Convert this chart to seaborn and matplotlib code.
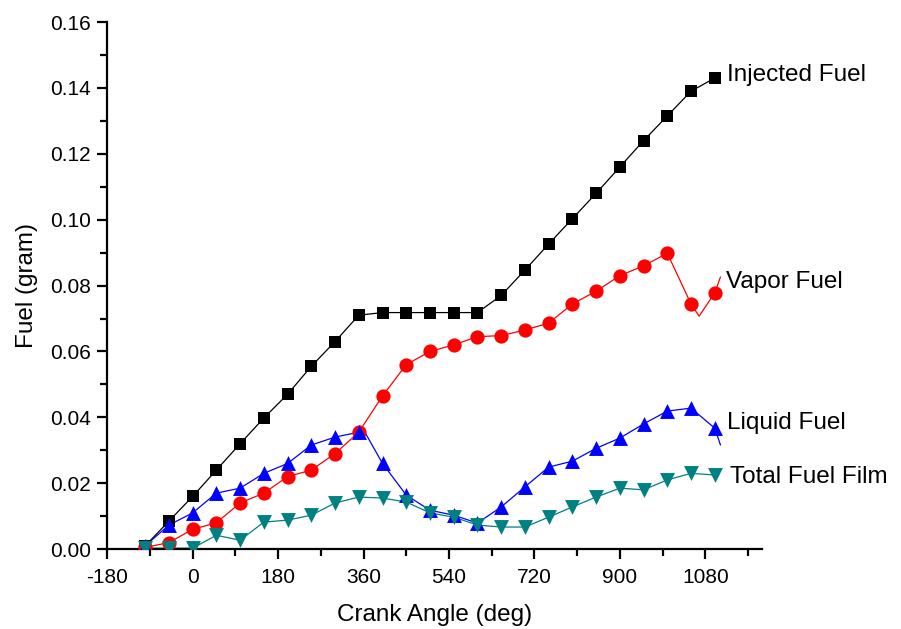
import matplotlib
matplotlib.use('Agg')
import matplotlib.pyplot as plt
from matplotlib.ticker import MultipleLocator, FormatStrFormatter
import seaborn as sns
import pandas as pd

# crank angles where markers sit (every 50 deg)
angles = [-100, -50, 0, 50, 100, 150, 200, 250, 300, 350, 400, 450, 500,
          550, 600, 650, 700, 750, 800, 850, 900, 950, 1000, 1050, 1100]

injected = [0.001, 0.0085, 0.016, 0.024, 0.032, 0.0398, 0.047, 0.0555, 0.063,
            0.071, 0.0718, 0.0718, 0.0718, 0.0718, 0.0718, 0.077, 0.0847,
            0.0926, 0.1003, 0.108, 0.116, 0.124, 0.1315, 0.139, 0.143]
vapor = [0.0005, 0.002, 0.006, 0.008, 0.014, 0.017, 0.022, 0.024, 0.029,
         0.0355, 0.0465, 0.056, 0.060, 0.062, 0.0645, 0.0648, 0.0665, 0.0686,
         0.0744, 0.0783, 0.083, 0.086, 0.0898, 0.0744, 0.0778]
liquid = [0.001, 0.0073, 0.011, 0.017, 0.0185, 0.023, 0.026, 0.0316, 0.034,
          0.0355, 0.026, 0.0164, 0.0118, 0.0103, 0.0079, 0.0128, 0.0189,
          0.0249, 0.0267, 0.0306, 0.0337, 0.038, 0.0419, 0.0428, 0.0367]
film = [0.0003, 0.0003, 0.0003, 0.0042, 0.0027, 0.0082, 0.0088, 0.0103, 0.014,
        0.0158, 0.0155, 0.0143, 0.011, 0.0097, 0.0073, 0.0067, 0.0067, 0.0097,
        0.0128, 0.0158, 0.0185, 0.018, 0.021, 0.023, 0.0225]

# extra line-only points (trace continues past last marker / dips between markers)
injected_tail_x = [1112]
injected_tail_y = [0.1435]
vapor_tail_x = [1067, 1112]
vapor_tail_y = [0.0707, 0.0826]
liquid_tail_x = [360, 1112]
liquid_tail_y = [0.0362, 0.0316]
film_tail_x = [1112]
film_tail_y = [0.0238]

names = ["Injected Fuel", "Vapor Fuel", "Liquid Fuel", "Total Fuel Film"]
colors = ["#000000", "#FF0000", "#0000FF", "#008080"]
markers = ["s", "o", "^", "v"]
msizes = [80, 105, 115, 115]

# where the curve names sit (data coords, left aligned)
label_x = [1126, 1124, 1126, 1132]
label_y = [0.1439, 0.0811, 0.0383, 0.0219]

series = [(injected, injected_tail_x, injected_tail_y),
          (vapor, vapor_tail_x, vapor_tail_y),
          (liquid, liquid_tail_x, liquid_tail_y),
          (film, film_tail_x, film_tail_y)]

sns.set_theme(style="ticks")
plt.rcParams['font.family'] = ['Liberation Sans', 'DejaVu Sans']
plt.rcParams['axes.unicode_minus'] = False

fig = plt.figure(figsize=(9.01, 6.29), dpi=100)
ax = fig.add_axes([0.119, 0.127, 0.727, 0.838])

for i, (name, color, mk, ms, (vals, tx, ty)) in enumerate(
        zip(names, colors, markers, msizes, series)):
    pts = pd.DataFrame({"angle": angles, "fuel": vals})
    line = pd.concat([pts, pd.DataFrame({"angle": tx, "fuel": ty})]).sort_values("angle")
    sns.lineplot(data=line, x="angle", y="fuel", color=color, linewidth=0.9,
                 sort=False, ax=ax)
    sns.scatterplot(data=pts, x="angle", y="fuel", color=color, marker=mk,
                    s=ms, edgecolor=color, linewidth=0, ax=ax, zorder=3)
    ax.text(label_x[i], label_y[i], name, fontsize=17.5, va="center",
            ha="left", color="black")

ax.set_xlim(-180, 1200)
ax.set_ylim(0, 0.16)
ax.xaxis.set_major_locator(MultipleLocator(180))
ax.xaxis.set_minor_locator(MultipleLocator(90))
ax.yaxis.set_major_locator(MultipleLocator(0.02))
ax.yaxis.set_minor_locator(MultipleLocator(0.01))
ax.yaxis.set_major_formatter(FormatStrFormatter('%.2f'))

sns.despine(ax=ax)
for side in ["left", "bottom"]:
    ax.spines[side].set_linewidth(1.6)
    ax.spines[side].set_color("black")
ax.tick_params(which="major", length=7.5, width=1.6, direction="out",
               labelsize=15, colors="black", pad=4)
ax.tick_params(axis="x", which="major", pad=6)
ax.tick_params(which="minor", length=5, width=1.6, direction="out", colors="black")

ax.set_xlabel("Crank Angle (deg)", fontsize=17.5, labelpad=12, color="black")
ax.set_ylabel("Fuel (gram)", fontsize=17.5, labelpad=9, color="black")

fig.savefig("out.png", dpi=100)
